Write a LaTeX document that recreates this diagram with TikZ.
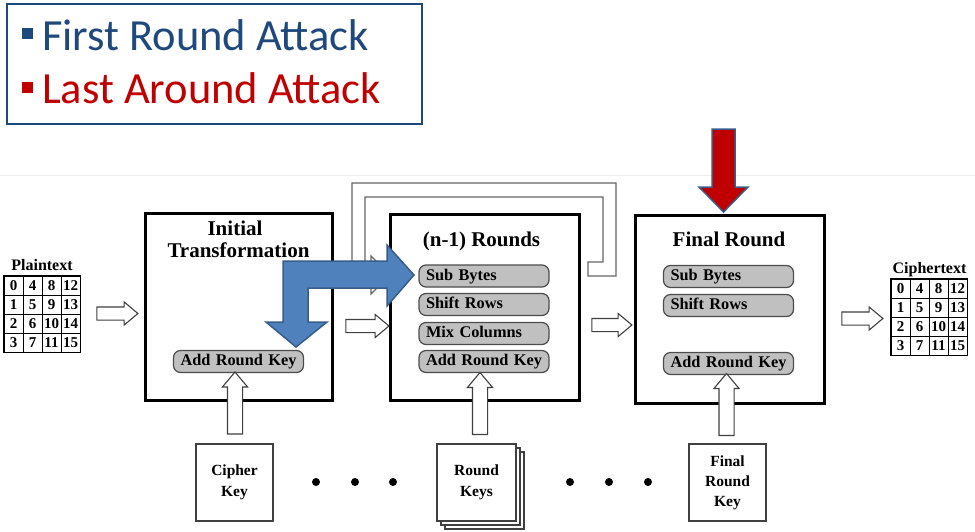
\documentclass[tikz,border=0pt]{standalone}
\usepackage{fontspec}
\setmainfont{Liberation Serif}
\newfontfamily\calibri{Carlito}
\usetikzlibrary{shapes.arrows}
\definecolor{legblue}{HTML}{1F497D}
\definecolor{legred}{HTML}{C00000}
\definecolor{atkblue}{HTML}{4F81BD}
\definecolor{atkedge}{HTML}{385D8A}
\definecolor{pillgray}{HTML}{C0C0C0}

\begin{document}
\begin{tikzpicture}[x=1pt, y=-1pt,
	stage/.style={draw, line width=3, inner sep=0},
	title/.style={font=\fontsize{21}{22}\selectfont\bfseries, anchor=base, inner sep=0},
	lbl/.style={font=\fontsize{16}{18}\selectfont\bfseries, anchor=base, inner sep=0},
	pill/.style={draw=black!70, fill=pillgray, line width=1.2, rounded corners=7, minimum height=22, text width=116, inner xsep=7, inner ysep=0, text height=11.5, text depth=3.5, align=left, font=\fontsize{16.3}{17}\selectfont\bfseries},
	cell/.style={draw, line width=0.8, minimum width=19, minimum height=19, inner sep=0, font=\fontsize{15}{15}\selectfont\bfseries},
	keybox/.style={draw=black!75, fill=white, line width=1.2, minimum width=77, minimum height=77, inner sep=0, align=center, font=\fontsize{15.5}{21}\selectfont\bfseries},
	hollow/.style={single arrow, draw=black!75, fill=white, line width=1.1, inner sep=0, text height=6, text depth=6, single arrow head extend=5, single arrow tip angle=80},
	attack/.style={draw=atkedge, line width=1.5, line join=miter}]
	\useasboundingbox (0,0) rectangle (975,531);
	\draw[black!7, line width=1] (0,175) -- (975,175);
	% legend
	\draw[legblue, line width=1.5] (7,4) rectangle (422,124);
	\fill[legblue] (22,28) rectangle (33,39);
	\node[anchor=base west, inner sep=0, text=legblue, font=\calibri\fontsize{44.5}{44}\selectfont] (first) at (42,50) {First Round Attack};
	\fill[legred] (22,82) rectangle (33,93);
	\node[anchor=base west, inner sep=0, text=legred, font=\calibri\fontsize{44.5}{44}\selectfont] (last) at (42,103) {Last Around Attack};
	% loop back into the rounds
	\draw[black!60, line width=1.2, line join=miter] (588,262) -- (603,262) -- (603,197) -- (365,197) -- (365,268) -- (371,268) -- (371,256) -- (390,275) -- (371,294) -- (371,282) -- (352,282) -- (352,183) -- (616,183) -- (616,276) -- (588,276) -- cycle;
	% stages
	\node[stage, minimum width=187, minimum height=187] (init) at (238.5,306.5) {};
	\node[stage, minimum width=189, minimum height=186] (rounds) at (484.5,307) {};
	\node[stage, minimum width=189, minimum height=188] (final) at (729.5,309) {};
	\node[title] (initT1) at (235,235) {Initial};
	\node[title] (initT2) at (238.5,257) {Transformation};
	\node[title] (roundsT) at (481.5,246) {(n-1) Rounds};
	\node[title] (finalT) at (729,246) {Final Round};
	\node[pill] (iark) at (238.5,361.5) {Add Round Key};
	\foreach \n/\t/\y in {rsb/Sub Bytes/276, rsr/Shift Rows/304.5, rmc/Mix Columns/333.5, rark/Add Round Key/361.5}
		\node[pill] (\n) at (484,\y) {\t};
	\foreach \n/\t/\y in {fsb/Sub Bytes/276.5, fsr/Shift Rows/305.5, fark/Add Round Key/363.5}
		\node[pill] (\n) at (728.5,\y) {\t};
	% state grids
	\foreach \r in {0,...,3} \foreach \c in {0,...,3} {
		\pgfmathtruncatemacro\v{\r+4*\c}
		\node[cell] (p\r\c) at (13.5+19*\c,285.5+19*\r) {\v};
		\node[cell] (c\r\c) at (900.5+19*\c,288.5+19*\r) {\v};
	}
	\draw[line width=1.3] (p00.north west) rectangle (p33.south east);
	\draw[line width=1.3] (c00.north west) rectangle (c33.south east);
	\node[lbl] (plainL) at (42,270) {Plaintext};
	\node[lbl] (cipherL) at (929.5,273) {Ciphertext};
	% flow arrows
	\node[hollow, minimum height=41] (a1) at (113.5,313.5) {};
	\node[hollow, minimum height=43] (a2) at (363.5,326) {};
	\node[hollow, minimum height=40] (a3) at (608,325) {};
	\node[hollow, minimum height=41] (a4) at (858.5,318.5) {};
	% keys
	\node[keybox, minimum width=79] (rkey3) at (484.5,490.5) {};
	\node[keybox, minimum width=79] (rkey2) at (480.5,486.5) {};
	\node[keybox, minimum width=79] (rkey) at (476.5,482.5) {Round\\Keys};
	\node[keybox] (ckey) at (234.5,482.5) {Cipher\\Key};
	\node[keybox, font=\fontsize{15.5}{20}\selectfont\bfseries] (fkey) at (727.5,482.5) {Final\\Round\\Key};
	\foreach \n/\x/\y in {u1/235/407.5, u2/480/408, u3/726.5/409}
		\node[hollow, rotate=90, text height=7, text depth=7, minimum height=62] (\n) at (\x,\y) {};
	\foreach \x in {316,355,393,570,609,648} \fill (\x,482) circle (4);
	% attacks
	\draw[attack, fill=atkblue] (414,275) -- (387,245) -- (387,261) -- (283,261) -- (283,322) -- (266,322) -- (296,347) -- (327,322) -- (308,322) -- (308,288) -- (387,288) -- (387,306) -- cycle;
	\draw[attack, fill=legred] (712,129) -- (735,129) -- (735,187) -- (748,187) -- (723.5,212) -- (699,187) -- (712,187) -- cycle;
\end{tikzpicture}
\end{document}
